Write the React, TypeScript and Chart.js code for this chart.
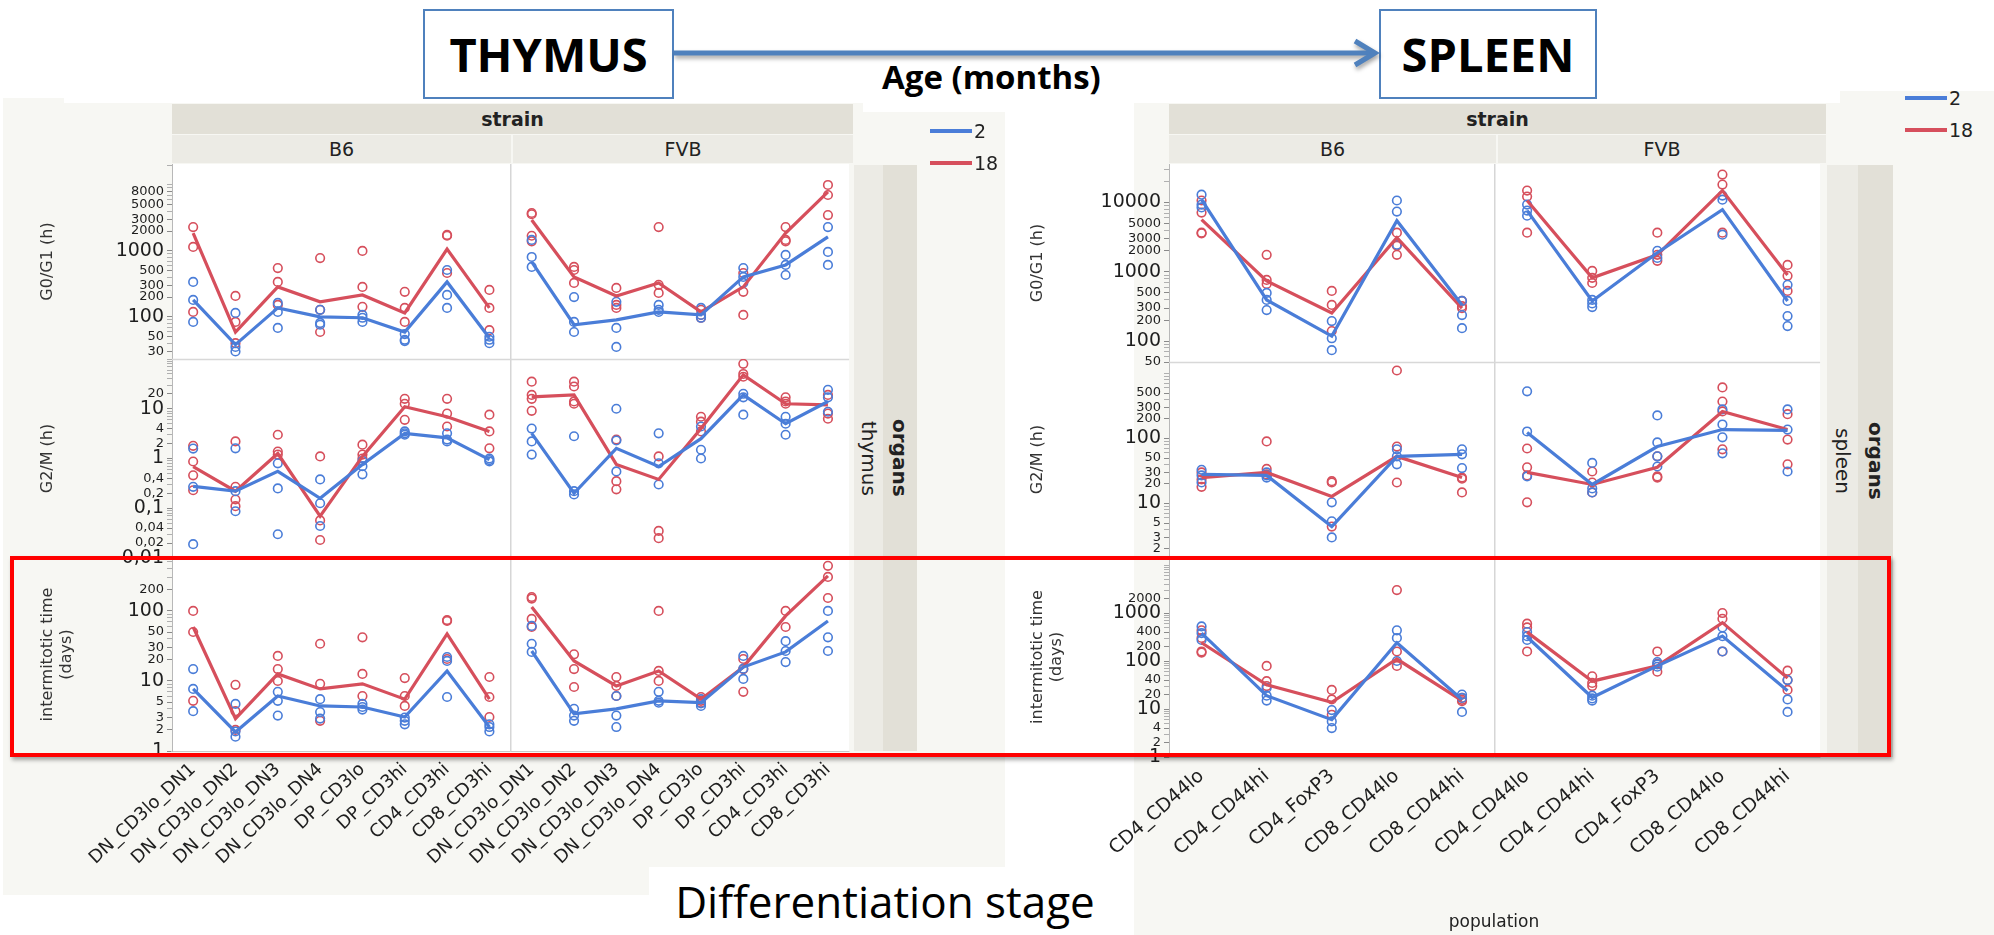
import React, { useEffect, useRef } from 'react';
import { Chart, registerables } from 'chart.js';
Chart.register(...registerables);

const JMP = '"DejaVu Sans", Verdana, sans-serif';
const OFFICE = '"Open Sans", "Noto Sans", sans-serif';
const BLUE = '#4a7dd8';
const RED = '#d64f5c';
const PANEL_BG = '#f7f7f3';
const STRIP_DARK = '#e2e0d7';
const STRIP_LIGHT = '#ecebe5';

// ---------- categories ----------
const strains = ['B6', 'FVB'];
const ages = ['2', '18'];
const thymusStages = ['DN_CD3lo_DN1', 'DN_CD3lo_DN2', 'DN_CD3lo_DN3', 'DN_CD3lo_DN4', 'DP_CD3lo', 'DP_CD3hi', 'CD4_CD3hi', 'CD8_CD3hi'];
const spleenPops = ['CD4_CD44lo', 'CD4_CD44hi', 'CD4_FoxP3', 'CD8_CD44lo', 'CD8_CD44hi'];

// ---------- tick labels ----------
const thyG0Ticks = [30, 50, 100, 200, 300, 500, 1000, 2000, 3000, 5000, 8000];
const thyG2Ticks = [0.01, 0.02, 0.04, 0.1, 0.2, 0.4, 1, 2, 4, 10, 20];
const thyITTicks = [1, 2, 3, 5, 10, 20, 30, 50, 100, 200];
const splG0Ticks = [50, 100, 200, 300, 500, 1000, 2000, 3000, 5000, 10000];
const splG2Ticks = [2, 3, 5, 10, 20, 30, 50, 100, 200, 300, 500];
const splITTicks = [1, 2, 4, 10, 20, 40, 100, 200, 400, 1000, 2000];

// ---------- THYMUS: G0/G1 (h) ----------
const thyG0_B6_m2 = [181, 38, 137, 100, 97, 59, 339, 48];
const thyG0_B6_m18 = [1870, 59, 285, 169, 215, 115, 1070, 137];
const thyG0_FVB_m2 = [681, 76, 90, 119, 107, 404, 613, 1630];
const thyG0_FVB_m18 = [2950, 404, 208, 327, 119, 285, 1870, 7840];
const thyG0_B6_p2 = [[339, 181, 84], [115, 35, 30], [163, 119, 68], [128, 76, 81], [107, 97, 84], [55, 45, 43], [514, 215, 137], [50, 45, 40]];
const thyG0_B6_p18 = [[2300, 1150, 119], [208, 84, 40], [550, 339, 152], [780, 128, 59], [1000, 285, 142], [240, 137, 84], [1750, 1700, 463], [256, 137, 63]];
const thyG0_FVB_p2 = [[1470, 810, 573], [200, 84, 59], [169, 68, 35], [152, 128, 119], [137, 107, 97], [550, 404, 327], [870, 613, 432], [2300, 965, 613]];
const thyG0_FVB_p18 = [[3760, 3600, 1700, 1400], [573, 514, 327], [275, 152, 137], [2300, 306, 231], [128, 107, 97], [463, 240, 107], [2300, 1470, 1400], [10000, 7050, 3500]];

// ---------- THYMUS: G2/M (h) ----------
const thyG2_B6_m2 = [0.275, 0.22, 0.55, 0.158, 0.76, 3.2, 2.6, 0.95];
const thyG2_B6_m18 = [0.69, 0.22, 1.26, 0.069, 1.1, 11, 6.9, 3.5];
const thyG2_FVB_m2 = [3.2, 0.2, 1.6, 0.69, 2.5, 19, 5, 14];
const thyG2_FVB_m18 = [17.4, 19, 0.76, 0.38, 4.0, 48, 12.6, 12];
const thyG2_B6_p2 = [[1.58, 0.27, 0.019], [1.6, 0.22, 0.087], [0.8, 0.25, 0.03], [0.38, 0.126, 0.044], [0.9, 0.7, 0.48], [3.5, 3.0, 3.2], [3.2, 2.4, 2.2], [1.0, 0.87, 0.93]];
const thyG2_B6_p18 = [[1.8, 0.87, 0.46, 0.23], [2.2, 0.27, 0.15, 0.11], [3.0, 1.38, 1.2], [1.1, 0.057, 0.023], [1.9, 1.2, 1.0], [15.8, 12.6, 6.0], [15.8, 8, 4.4], [7.6, 3.5, 1.6]];
const thyG2_FVB_p2 = [[4, 2.2, 1.2], [2.8, 0.22, 0.19], [10, 2.3, 0.55], [3.2, 0.8, 0.3], [4.4, 1.5, 1.0], [20, 17, 7.6], [6.9, 5, 3.0], [24, 17, 8.7]];
const thyG2_FVB_p18 = [[35, 19, 15.8, 9.1], [35, 28, 14, 12.6], [2.4, 0.35, 0.24], [1.1, 0.035, 0.025], [6.9, 5.5, 3.5], [80, 50, 44], [17, 14, 12.6], [19, 8, 6.3]];

// ---------- THYMUS: intermitotic time (days) ----------
const thyIT_B6_m2 = [7.7, 1.87, 6.1, 4.4, 4.25, 3.06, 13.9, 2.2];
const thyIT_B6_m18 = [59, 2.9, 12.6, 7.7, 9.1, 5.5, 47, 5.5];
const thyIT_FVB_m2 = [26.8, 3.4, 4.0, 5.2, 4.9, 15.8, 26, 72];
const thyIT_FVB_m18 = [114, 19.3, 8.5, 13.9, 5.5, 15.8, 85, 316];
const thyIT_B6_p2 = [[14.8, 7.7, 3.7], [4.7, 1.9, 1.6], [7.0, 5.2, 3.2], [5.5, 3.6, 2.9], [4.7, 4.25, 3.9], [3.0, 2.7, 2.4], [22, 19.3, 5.9], [2.4, 2.2, 1.9]];
const thyIT_B6_p18 = [[100, 50, 5.2], [8.8, 3.7, 2.0], [22.8, 14.8, 10], [34, 9.1, 2.7], [42, 12.6, 6.1], [11, 6.1, 4.4], [74, 72, 20.6], [11.4, 5.9, 3.06]];
const thyIT_FVB_p2 = [[61, 34, 26], [4.0, 3.2, 2.7], [6.1, 3.2, 2.2], [7, 5.2, 4.9], [5.5, 4.8, 4.4], [22.8, 15, 10.7], [37, 26.8, 18.6], [100, 42, 26.8]];
const thyIT_FVB_p18 = [[158, 150, 77, 59], [24, 14.8, 8.2], [11.4, 8.5, 6.1], [100, 13.9, 10], [5.9, 5.2, 4.9], [20.6, 14.8, 7], [100, 59], [440, 306, 153]];

// ---------- SPLEEN: G0/G1 (h) ----------
const splG0_B6_m2 = [11000, 393, 118, 5470, 333];
const splG0_B6_m18 = [5670, 740, 255, 3110, 300];
const splG0_FVB_m2 = [7660, 380, 1890, 7900, 380];
const splG0_FVB_m18 = [10700, 820, 1760, 14900, 900];
const splG0_B6_p2 = [[13000, 9350, 8500], [496, 393, 281], [195, 110, 74], [10700, 7400, 2460], [380, 238, 154]];
const splG0_B6_p18 = [[10700, 7160, 3670, 3600], [1760, 765, 670], [530, 333, 140], [3670, 2380, 1760], [380, 320, 300]];
const splG0_FVB_p2 = [[9350, 7660, 6470], [393, 310, 350], [2010, 1590], [12600, 11000, 3440], [650, 380, 230, 165]];
const splG0_FVB_p18 = [[14900, 12200, 3670], [1030, 820, 690], [3670, 1760, 1440], [25300, 18200, 3670], [1260, 875, 530]];

// ---------- SPLEEN: G2/M (h) ----------
const splG2_B6_m2 = [28, 27, 4.4, 53, 57];
const splG2_B6_m18 = [25, 30, 12.8, 53, 25];
const splG2_FVB_m2 = [123, 19.6, 75, 137, 133];
const splG2_FVB_m18 = [30, 19.6, 36, 260, 137];
const splG2_B6_p2 = [[33, 27, 21], [30, 27, 25], [10.4, 5.3, 3.0], [68, 53, 40], [68, 57, 35]];
const splG2_B6_p18 = [[30, 23.4, 18], [90, 34, 28], [22, 21, 4.4], [1110, 75, 21], [25, 24, 14.8]];
const splG2_FVB_p2 = [[530, 128, 26], [42, 17, 14.8], [226, 87, 53, 37], [280, 164, 104, 59], [280, 137, 31]];
const splG2_FVB_p18 = [[70, 36, 27, 10.4], [31, 21, 14.8], [53, 26, 25], [610, 370, 260, 68], [236, 96, 40]];

// ---------- SPLEEN: intermitotic time (days) ----------
const splIT_B6_m2 = [380, 19, 6.0, 240, 15.8];
const splIT_B6_m18 = [240, 32, 13.8, 110, 15];
const splIT_FVB_m2 = [316, 17.4, 79, 330, 24];
const splIT_FVB_m18 = [400, 38, 79, 630, 44];
const splIT_B6_p2 = [[525, 380, 275], [27.5, 19, 15], [9.5, 5.5, 4.0], [437, 302, 100], [20, 17, 8.7]];
const splIT_B6_p18 = [[437, 302, 158, 150], [79, 38, 30], [25, 15.8, 7.6], [3000, 158, 79], [17, 15.5, 14.5]];
const splIT_FVB_p2 = [[400, 330, 275], [19, 16.6, 15], [95, 85, 76], [500, 330, 158], [40, 15.8, 8.7]];
const splIT_FVB_p18 = [[600, 500, 158], [48, 35, 30], [158, 87, 60], [1000, 760, 158], [63, 40, 25]];

// ---------- helpers ----------
const norm = (v: number) => parseFloat(v.toPrecision(6));
const isDecade = (v: number) => Math.abs(Math.log10(v) - Math.round(Math.log10(v))) < 1e-9;

function logTicks(min: number, max: number) {
  const out: number[] = [];
  for (let d = Math.floor(Math.log10(min)) - 1; d <= Math.ceil(Math.log10(max)); d++) {
    for (let m = 1; m <= 9; m++) {
      const v = norm(m * Math.pow(10, d));
      if (v >= min * 0.999 && v <= max * 1.001) out.push(v);
    }
  }
  return out;
}

type StrainData = { m2: number[]; m18: number[]; p2: number[][]; p18: number[][] };
type RowSpec = {
  id: string; title: string | string[]; min: number; max: number; weight: number;
  labeled: number[]; comma: boolean; B6: StrainData; FVB: StrainData;
};
type OrganSpec = {
  cats: string[]; rot: number; xFont: number; xHeight: number; yWidth: number;
  pad: { left: number; top: number; right: number; bottom: number }; rows: RowSpec[];
};

function lineDs(vals: number[], off: number, color: string, yAxisID: string, label: string) {
  return {
    type: 'line', label, data: vals.map((v, i) => ({ x: off + i, y: v })),
    borderColor: color, backgroundColor: color, borderWidth: 3.2, pointRadius: 0,
    yAxisID, order: 0, tension: 0,
  };
}
function ptsDs(groups: number[][], off: number, color: string, yAxisID: string, label: string) {
  const data: { x: number; y: number }[] = [];
  groups.forEach((g, i) => g.forEach((v) => data.push({ x: off + i, y: v })));
  return {
    type: 'line', label, showLine: false, data,
    borderColor: color, backgroundColor: 'rgba(0,0,0,0)',
    pointRadius: 4.3, pointBorderWidth: 1.6, pointBackgroundColor: 'rgba(0,0,0,0)',
    pointBorderColor: color, yAxisID, order: 1,
  };
}

function yScale(r: RowSpec, width: number) {
  const labeled = r.labeled.map(norm);
  const isLab = (v: number) => labeled.includes(norm(v));
  return {
    type: 'logarithmic', position: 'left', stack: 'rows', stackWeight: r.weight,
    min: r.min, max: r.max,
    afterBuildTicks: (s: any) => { s.ticks = logTicks(r.min, r.max).map((v) => ({ value: v })); },
    afterFit: (s: any) => { s.width = width; },
    ticks: {
      autoSkip: false, padding: 3, color: '#1e1e1e',
      callback: (v: number) => (isLab(v) ? (r.comma ? String(norm(v)).replace('.', ',') : String(norm(v))) : ''),
      font: (ctx: any) => {
        const v = ctx && ctx.tick ? ctx.tick.value : NaN;
        return { family: JMP, size: isFinite(v) && isLab(v) && isDecade(v) ? 19 : 13 };
      },
    },
    grid: {
      drawOnChartArea: false, drawTicks: true, tickLength: 5,
      color: '#9a9a9a',
      tickColor: (ctx: any) => (ctx && ctx.tick && isLab(ctx.tick.value) ? '#8a8a8a' : '#b0b0b0'),
    },
    border: { display: true, color: '#b8b8b8', width: 1 },
    title: { display: true, text: r.title, color: '#333', padding: 0, font: { family: JMP, size: 16 } },
  };
}

const panelPlugin = {
  id: 'panelBg',
  beforeDraw(chart: any) {
    const { ctx, chartArea: a } = chart;
    ctx.save();
    ctx.fillStyle = '#ffffff';
    ctx.fillRect(a.left, a.top, a.right - a.left, a.bottom - a.top);
    ctx.restore();
  },
  beforeDatasetsDraw(chart: any) {
    const { ctx, chartArea: a } = chart;
    ctx.save();
    ctx.strokeStyle = '#d8d8d8';
    ctx.lineWidth = 1.5;
    ['yM', 'yB'].forEach((id) => {
      const s = chart.scales[id];
      if (!s) return;
      ctx.beginPath();
      ctx.moveTo(a.left, Math.round(s.top) + 0.5);
      ctx.lineTo(a.right, Math.round(s.top) + 0.5);
      ctx.stroke();
    });
    ctx.restore();
  },
};

function buildConfig(o: OrganSpec) {
  const n = o.cats.length;
  const datasets: any[] = [];
  o.rows.forEach((r) => {
    strains.forEach((st, si) => {
      const d = (r as any)[st] as StrainData;
      const off = si * n;
      datasets.push(ptsDs(d.p2, off, BLUE, r.id, `${st} ${ages[0]} pts`));
      datasets.push(ptsDs(d.p18, off, RED, r.id, `${st} ${ages[1]} pts`));
      datasets.push(lineDs(d.m2, off, BLUE, r.id, ages[0]));
      datasets.push(lineDs(d.m18, off, RED, r.id, ages[1]));
    });
  });
  const [rT, rM, rB] = o.rows;
  const scales: any = {
    x: {
      type: 'linear', min: -0.5, max: 2 * n - 0.5,
      afterBuildTicks: (s: any) => {
        const t: { value: number }[] = [];
        for (let i = 0; i < 2 * n; i++) t.push({ value: i });
        t.push({ value: n - 0.5 });
        t.sort((a, b) => a.value - b.value);
        s.ticks = t;
      },
      afterFit: (s: any) => { s.height = o.xHeight; },
      ticks: {
        autoSkip: false, minRotation: o.rot, maxRotation: o.rot, padding: 8, color: '#1e1e1e',
        font: { family: JMP, size: o.xFont },
        callback: (v: number) => (Number.isInteger(v) ? o.cats[v % n] : ''),
      },
      grid: {
        drawTicks: false, lineWidth: 1.5,
        color: (ctx: any) => (ctx && ctx.tick && !Number.isInteger(ctx.tick.value) ? '#d6d6d6' : 'rgba(0,0,0,0)'),
      },
      border: { display: true, color: '#c8c8c8' },
    },
    yB: yScale(rB, o.yWidth),
    yM: yScale(rM, o.yWidth),
    yT: yScale(rT, o.yWidth),
  };
  return {
    type: 'line',
    data: { datasets },
    options: {
      responsive: false, maintainAspectRatio: false, animation: false, devicePixelRatio: 1,
      events: [],
      layout: { padding: o.pad },
      plugins: { legend: { display: false }, tooltip: { enabled: false } },
      scales,
    },
    plugins: [panelPlugin],
  } as any;
}

const thymusSpec: OrganSpec = {
  cats: thymusStages, rot: 43, xFont: 18, xHeight: 184, yWidth: 134,
  pad: { left: 38, top: 20, right: 2, bottom: 0 },
  rows: [
    { id: 'yT', title: 'G0/G1 (h)', min: 23, max: 20800, weight: 195, labeled: thyG0Ticks, comma: false,
      B6: { m2: thyG0_B6_m2, m18: thyG0_B6_m18, p2: thyG0_B6_p2, p18: thyG0_B6_p18 },
      FVB: { m2: thyG0_FVB_m2, m18: thyG0_FVB_m18, p2: thyG0_FVB_p2, p18: thyG0_FVB_p18 } },
    { id: 'yM', title: 'G2/M (h)', min: 0.01, max: 100, weight: 199, labeled: thyG2Ticks, comma: true,
      B6: { m2: thyG2_B6_m2, m18: thyG2_B6_m18, p2: thyG2_B6_p2, p18: thyG2_B6_p18 },
      FVB: { m2: thyG2_FVB_m2, m18: thyG2_FVB_m18, p2: thyG2_FVB_p2, p18: thyG2_FVB_p18 } },
    { id: 'yB', title: ['intermitotic time', '(days)'], min: 1, max: 570, weight: 193, labeled: thyITTicks, comma: false,
      B6: { m2: thyIT_B6_m2, m18: thyIT_B6_m18, p2: thyIT_B6_p2, p18: thyIT_B6_p18 },
      FVB: { m2: thyIT_FVB_m2, m18: thyIT_FVB_m18, p2: thyIT_FVB_p2, p18: thyIT_FVB_p18 } },
  ],
};

const spleenSpec: OrganSpec = {
  cats: spleenPops, rot: 41, xFont: 19, xHeight: 178, yWidth: 141,
  pad: { left: 28, top: 20, right: 0, bottom: 0 },
  rows: [
    { id: 'yT', title: 'G0/G1 (h)', min: 50, max: 36000, weight: 198, labeled: splG0Ticks, comma: false,
      B6: { m2: splG0_B6_m2, m18: splG0_B6_m18, p2: splG0_B6_p2, p18: splG0_B6_p18 },
      FVB: { m2: splG0_FVB_m2, m18: splG0_FVB_m18, p2: splG0_FVB_p2, p18: splG0_FVB_p18 } },
    { id: 'yM', title: 'G2/M (h)', min: 1.5, max: 1500, weight: 195, labeled: splG2Ticks, comma: false,
      B6: { m2: splG2_B6_m2, m18: splG2_B6_m18, p2: splG2_B6_p2, p18: splG2_B6_p18 },
      FVB: { m2: splG2_FVB_m2, m18: splG2_FVB_m18, p2: splG2_FVB_p2, p18: splG2_FVB_p18 } },
    { id: 'yB', title: ['intermitotic time', '(days)'], min: 1, max: 14700, weight: 200, labeled: splITTicks, comma: false,
      B6: { m2: splIT_B6_m2, m18: splIT_B6_m18, p2: splIT_B6_p2, p18: splIT_B6_p18 },
      FVB: { m2: splIT_FVB_m2, m18: splIT_FVB_m18, p2: splIT_FVB_p2, p18: splIT_FVB_p18 } },
  ],
};

// ---------- layout pieces ----------
const abs = (l: number, t: number, w: number, h: number, extra: React.CSSProperties = {}): React.CSSProperties => ({
  position: 'absolute', left: l, top: t, width: w, height: h, ...extra,
});
const centered: React.CSSProperties = { display: 'flex', alignItems: 'center', justifyContent: 'center' };

function Strips(props: { left: number; mid: number; right: number; stripR: number; organ: string; bottom: number }) {
  const { left, mid, right, stripR, organ, bottom } = props;
  const txt: React.CSSProperties = { fontFamily: JMP, color: '#222' };
  const midY = 165;
  const h = bottom - midY;
  const lightW = Math.round((stripR - right) * 0.46);
  return (
    <>
      <div style={abs(left, 104, right - left, 30, { ...centered, ...txt, background: STRIP_DARK, fontWeight: 'bold', fontSize: 19 })}>strain</div>
      <div style={abs(left, 135, mid - left - 1, 28, { ...centered, ...txt, background: STRIP_LIGHT, fontSize: 19 })}>{strains[0]}</div>
      <div style={abs(mid + 1, 135, right - mid - 1, 28, { ...centered, ...txt, background: STRIP_LIGHT, fontSize: 19 })}>{strains[1]}</div>
      <div style={abs(right + 1, midY, lightW, h, { ...centered, background: STRIP_LIGHT })}>
        <span style={{ ...txt, writingMode: 'vertical-rl', fontSize: 20 }}>{organ}</span>
      </div>
      <div style={abs(right + 1 + lightW, midY, stripR - right - 1 - lightW, h, { ...centered, background: STRIP_DARK })}>
        <span style={{ ...txt, writingMode: 'vertical-rl', fontSize: 20, fontWeight: 'bold' }}>organs</span>
      </div>
    </>
  );
}

function Legend(props: { left: number; top: number }) {
  const { left, top } = props;
  const row = (color: string, label: string, y: number) => (
    <div style={abs(left, y - 12, 90, 24)}>
      <div style={abs(0, 10, 42, 4, { background: color })} />
      <div style={abs(44, 0, 46, 24, { fontFamily: JMP, fontSize: 19, lineHeight: '24px', color: '#222' })}>{label}</div>
    </div>
  );
  return (
    <>
      {row(BLUE, ages[0], top)}
      {row(RED, ages[1], top + 32)}
    </>
  );
}

export default function App() {
  const thyRef = useRef<HTMLCanvasElement>(null);
  const splRef = useRef<HTMLCanvasElement>(null);

  useEffect(() => {
    const c1 = new Chart(thyRef.current as HTMLCanvasElement, buildConfig(thymusSpec));
    const c2 = new Chart(splRef.current as HTMLCanvasElement, buildConfig(spleenSpec));
    return () => {
      c1.destroy();
      c2.destroy();
    };
  }, []);

  return (
    <div style={{ position: 'fixed', left: 0, top: 0, width: 1994, height: 935, background: '#ffffff', overflow: 'hidden' }}>
      {/* panel backgrounds */}
      <div style={abs(3, 98, 61, 10, { background: PANEL_BG })} />
      <div style={abs(3, 103, 1002, 792, { background: PANEL_BG })} />
      <div style={abs(863, 103, 142, 9, { background: '#ffffff' })} />
      <div style={abs(1134, 103, 860, 832, { background: PANEL_BG })} />
      <div style={abs(1840, 91, 154, 13, { background: PANEL_BG })} />

      {/* charts */}
      <canvas ref={thyRef} width={855} height={791} style={abs(0, 144, 855, 791)} />
      <canvas ref={splRef} width={826} height={791} style={abs(1000, 144, 826, 791)} />

      {/* facet strips */}
      <Strips left={172} mid={512} right={853} stripR={917} organ="thymus" bottom={751} />
      <Strips left={1169} mid={1497} right={1826} stripR={1893} organ="spleen" bottom={757} />

      {/* legends */}
      <Legend left={930} top={131} />
      <Legend left={1905} top={98} />

      {/* top title boxes and arrow */}
      <div style={abs(423, 9, 251, 90, { ...centered, boxSizing: 'border-box', border: '2px solid #4f81bd', background: '#fff', fontFamily: OFFICE, fontWeight: 'bold', fontSize: 47, color: '#000' })}>THYMUS</div>
      <div style={abs(1379, 9, 218, 90, { ...centered, boxSizing: 'border-box', border: '2px solid #4f81bd', background: '#fff', fontFamily: OFFICE, fontWeight: 'bold', fontSize: 47, color: '#000' })}>SPLEEN</div>
      <svg width={1994} height={110} style={{ position: 'absolute', left: 0, top: 0, filter: 'drop-shadow(1px 3px 2px rgba(0,0,0,0.35))' }}>
        <line x1={674} y1={53} x2={1372} y2={53} stroke="#4f81bd" strokeWidth={5} />
        <polyline points="1355,41 1375,53 1355,65" fill="none" stroke="#4f81bd" strokeWidth={5} />
      </svg>
      <div style={abs(882, 55, 250, 44, { fontFamily: OFFICE, fontWeight: 'bold', fontSize: 33, lineHeight: '44px', color: '#000', whiteSpace: 'nowrap' })}>Age (months)</div>

      {/* red highlight box */}
      <div style={abs(10, 556, 1881, 201, { boxSizing: 'border-box', border: '4px solid #ff0000', boxShadow: '2px 3px 4px rgba(0,0,0,0.35)', pointerEvents: 'none' })} />

      {/* bottom captions */}
      <div style={abs(649, 867, 472, 68, { ...centered, background: '#fff', fontFamily: OFFICE, fontSize: 44, color: '#000', whiteSpace: 'nowrap' })}>Differentiation stage</div>
      <div style={abs(1394, 908, 200, 26, { ...centered, fontFamily: JMP, fontSize: 17, color: '#222' })}>population</div>
    </div>
  );
}
